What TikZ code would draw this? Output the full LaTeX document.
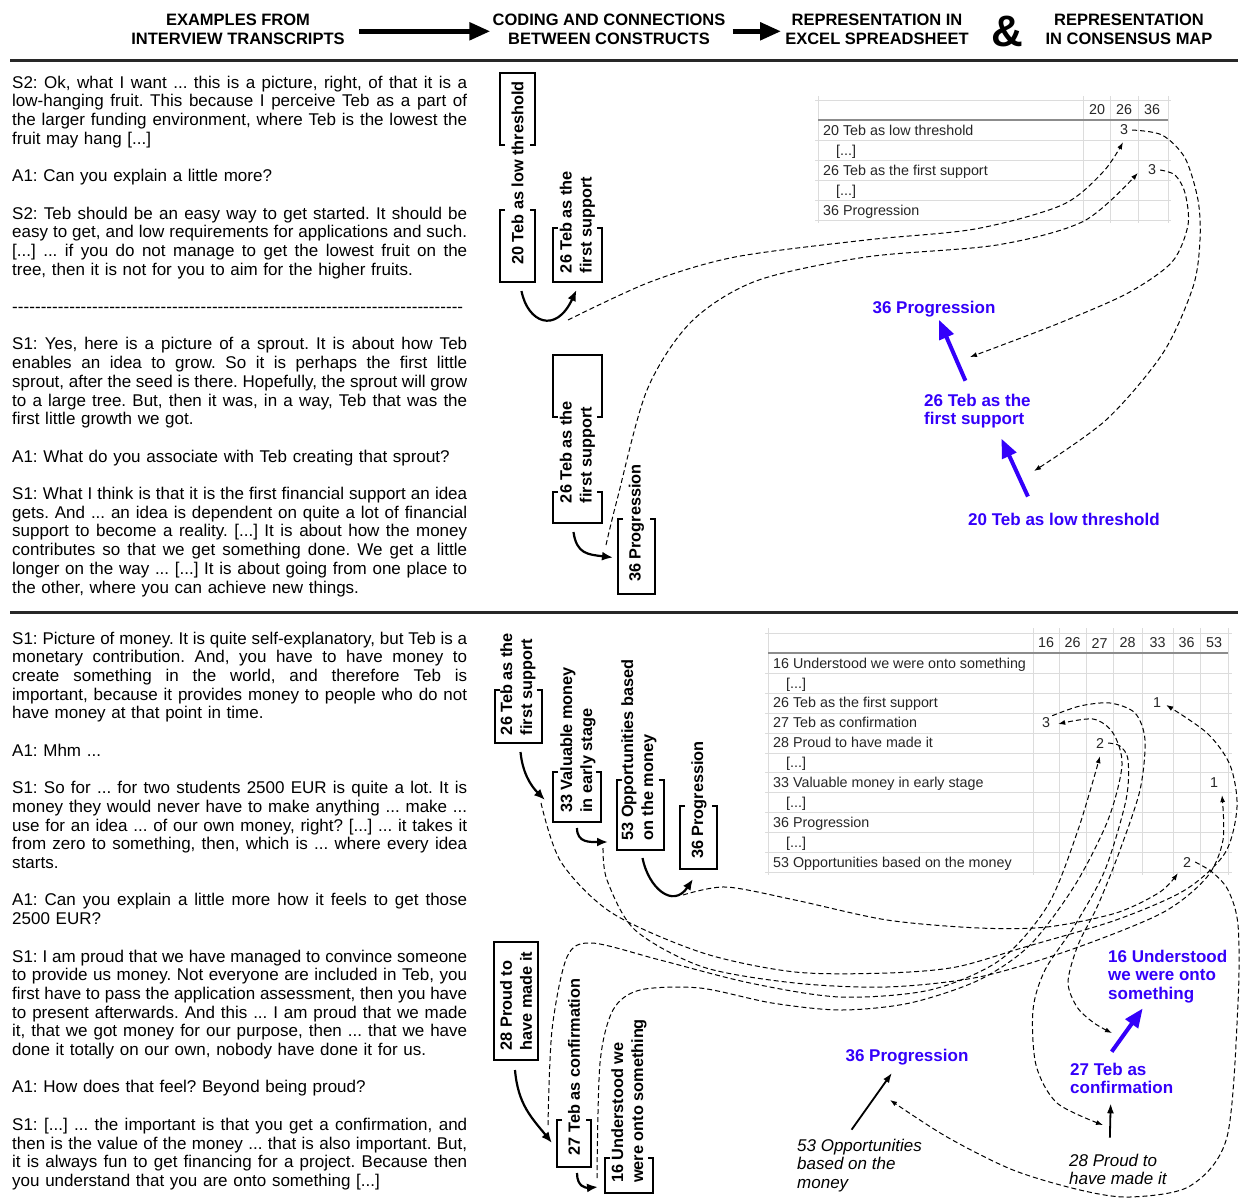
\documentclass[tikz,border=0pt]{standalone}
\usepackage{fontspec}
\setmainfont{Liberation Sans}
\usetikzlibrary{arrows.meta, calc}

\definecolor{mapblue}{RGB}{52,0,250}
\definecolor{gridline}{RGB}{220,220,220}
\definecolor{headline}{RGB}{140,140,140}
\definecolor{ruleline}{RGB}{40,40,40}

% justified line, last line, empty line of a transcript
\newcommand\jl[1]{\hbox to 455pt{\frenchspacing\spaceskip=0.278em plus 1fil minus 0.12em\relax #1}}
\newcommand\el[1]{\hbox{\frenchspacing #1}}
\newcommand\gap{\vskip 18.7pt}
\newcommand\omitrow{\kern13pt[...]}

% bracket pieces round a code
\newcommand\lowbrk[2]{\draw[brkline] ($(#1.south west)+(5,-#2)$) -- ++(-5,0) -- (#1.south west) -- (#1.south east) -- ++(0,-#2) -- ++(-5,0);}
\newcommand\highbrk[2]{\draw[brkline] ($(#1.north west)+(5,#2)$) -- ++(-5,0) -- (#1.north west) -- (#1.north east) -- ++(0,#2) -- ++(-5,0);}

\begin{document}
\begin{tikzpicture}[x=1pt, y=-1pt,
headtext/.style={font=\fontsize{16.5}{18.5}\selectfont\bfseries, align=center, inner sep=0pt, anchor=north},
talk/.style={font=\fontsize{17}{18.7}\selectfont, text width=455pt, inner sep=0pt, anchor=north west},
codeframe/.style={rectangle, inner sep=0pt, outer sep=0pt},
codetext/.style={font=\fontsize{16.3}{20}\selectfont\bfseries, rotate=90, align=left, inner sep=0pt},
brkline/.style={line width=1.8pt},
cell/.style={font=\fontsize{14.3}{16}\selectfont, anchor=base west, inner sep=0pt, text=black!85},
val/.style={font=\fontsize{14.3}{16}\selectfont, inner sep=1pt, text=black!85},
maptext/.style={font=\fontsize{17}{18.7}\selectfont\bfseries, text=mapblue, align=left, inner sep=0pt},
mapnote/.style={font=\fontsize{17}{18.5}\selectfont\itshape, align=left, inner sep=0pt},
bigarrow/.style={-{Triangle[length=21pt,width=17pt]}, line width=5pt},
codearrow/.style={-{Latex[length=11pt,width=9pt]}, line width=2.2pt},
bluearrow/.style={-{Triangle[length=19pt,width=15pt]}, line width=4pt, mapblue},
maparrow/.style={-{Latex[length=10pt,width=7pt]}, line width=1.8pt},
link/.style={-{Latex[length=7pt,width=5pt]}, line width=1pt, dash pattern=on 5pt off 3pt},
pagerule/.style={line width=3pt, draw=ruleline},
sheetline/.style={draw=gridline, line width=1pt}
]
\fill[white] (0,0) rectangle (1240,1200);
\useasboundingbox (0,0) rectangle (1240,1200);

% header
\node[headtext] (h1) at (238,14) {EXAMPLES FROM\\INTERVIEW TRANSCRIPTS};
\node[headtext] (h2) at (609,14) {CODING AND CONNECTIONS\\BETWEEN CONSTRUCTS};
\node[headtext] (h3) at (877,14) {REPRESENTATION IN\\EXCEL SPREADSHEET};
\node[font=\fontsize{44}{44}\selectfont\bfseries, inner sep=0pt] (amp) at (1007,31) {\&};
\node[headtext] (h4) at (1129,14) {REPRESENTATION\\IN CONSENSUS MAP};
\draw[bigarrow] ($(h1.east)+(14,2)$) -- ($(h2.west)+(-2,2)$);
\draw[bigarrow] ($(h2.east)+(7,2)$) -- ($(h3.west)+(-4,2)$);

\draw[pagerule] (10,60) -- (1238,60);
\draw[pagerule] (10,612) -- (1238,612);

% transcripts
\node[talk] (tr1) at (12,75.6) {%
\jl{S2: Ok, what I want ... this is a picture, right, of that it is a}
\jl{low-hanging fruit. This because I perceive Teb as a part of}
\jl{the larger funding environment, where Teb is the lowest the}
\el{fruit may hang [...]}
\gap
\el{A1: Can you explain a little more?}
\gap
\jl{S2: Teb should be an easy way to get started. It should be}
\jl{easy to get, and low requirements for applications and such.}
\jl{[...] ... if you do not manage to get the lowest fruit on the}
\el{tree, then it is not for you to aim for the higher fruits.}
\gap
\el{\xleaders\hbox{-}\hskip451pt}
\gap
\jl{S1: Yes, here is a picture of a sprout. It is about how Teb}
\jl{enables an idea to grow. So it is perhaps the first little}
\jl{sprout, after the seed is there. Hopefully, the sprout will grow}
\jl{to a large tree. But, then it was, in a way, Teb that was the}
\el{first little growth we got.}
\gap
\el{A1: What do you associate with Teb creating that sprout?}
\gap
\jl{S1: What I think is that it is the first financial support an idea}
\jl{gets. And ... an idea is dependent on quite a lot of financial}
\jl{support to become a reality. [...] It is about how the money}
\jl{contributes so that we get something done. We get a little}
\jl{longer on the way ... [...] It is about going from one place to}
\el{the other, where you can achieve new things.}};

\node[talk] (tr2) at (12,631.6) {%
\jl{S1: Picture of money. It is quite self-explanatory, but Teb is a}
\jl{monetary contribution. And, you have to have money to}
\jl{create something in the world, and therefore Teb is}
\jl{important, because it provides money to people who do not}
\el{have money at that point in time.}
\gap
\el{A1: Mhm ...}
\gap
\jl{S1: So for ... for two students 2500 EUR is quite a lot. It is}
\jl{money they would never have to make anything ... make ...}
\jl{use for an idea ... of our own money, right? [...] ... it takes it}
\jl{from zero to something, then, which is ... where every idea}
\el{starts.}
\gap
\jl{A1: Can you explain a little more how it feels to get those}
\el{2500 EUR?}
\gap
\jl{S1: I am proud that we have managed to convince someone}
\jl{to provide us money. Not everyone are included in Teb, you}
\jl{first have to pass the application assessment, then you have}
\jl{to present afterwards. And this ... I am proud that we made}
\jl{it, that we got money for our purpose, then ... that we have}
\el{done it totally on our own, nobody have done it for us.}
\gap
\el{A1: How does that feel? Beyond being proud?}
\gap
\jl{S1: [...] ... the important is that you get a confirmation, and}
\jl{then is the value of the money ... that is also important. But,}
\jl{it is always fun to get financing for a project. Because then}
\el{you understand that you are onto something [...]}};

% codes, upper example
\node[codeframe, minimum width=35pt, minimum height=209pt] (c20) at (517.5,177.5) {};
\node[codetext] (t20) at (517.5,173) {20 Teb as low threshold};
\highbrk{c20}{72} \lowbrk{c20}{72}
\node[codeframe, minimum width=49pt, minimum height=117pt] (c26a) at (577.5,223.5) {};
\node[codetext] (t26a) at (577.5,222) {26 Teb as the\\first support};
\lowbrk{c26a}{54}
\node[codeframe, minimum width=49pt, minimum height=168pt] (c26b) at (577.5,439) {};
\node[codetext] (t26b) at (577.5,452) {26 Teb as the\\first support};
\highbrk{c26b}{62} \lowbrk{c26b}{31}
\node[codeframe, minimum width=37pt, minimum height=75pt] (c36a) at (636.5,556.5) {};
\node[codetext] (t36a) at (636.5,523) {36 Progression};
\lowbrk{c36a}{75}

\draw[codearrow] ($(c20.south)+(4,9)$) .. controls +(6,31) and +(-21,45) .. ($(c26a.south)+(-1,8)$);
\draw[codearrow] ($(c26b.south)+(-4,9)$) .. controls +(3,22) and +(-25,-3) .. ($(c36a.west)+(-5,1)$);

% codes, lower example
\node[codeframe, minimum width=47pt, minimum height=114pt] (c26c) at (518.5,686) {};
\node[codetext] (t26c) at (518,684) {26 Teb as the\\first support};
\lowbrk{c26c}{53}
\node[codeframe, minimum width=48pt, minimum height=162pt] (c33) at (577,741) {};
\node[codetext] (t33) at (578,740) {33 Valuable money\\in early stage};
\lowbrk{c33}{50}
\node[codeframe, minimum width=47pt, minimum height=200pt] (c53) at (640.5,750) {};
\node[codetext] (t53) at (639,750) {53 Opportunities based\\on the money};
\lowbrk{c53}{70}
\node[codeframe, minimum width=37pt, minimum height=135pt] (c36b) at (698.5,801.5) {};
\node[codetext] (t36b) at (699,800) {36 Progression};
\lowbrk{c36b}{63}
\node[codeframe, draw, brkline, minimum width=44pt, minimum height=118pt] (c28) at (516,1001) {};
\node[codetext] (t28) at (516,1001) {28 Proud to\\have made it};
\node[codeframe, minimum width=34pt, minimum height=197pt] (c27) at (574,1068.5) {};
\node[codetext] (t27) at (574,1067) {27 Teb as confirmation};
\lowbrk{c27}{47}
\node[codeframe, minimum width=48pt, minimum height=183pt] (c16) at (629,1101.5) {};
\node[codetext] (t16) at (629,1101) {16 Understood we\\were onto something};
\lowbrk{c16}{35}

\draw[codearrow] ($(c26c.south)+(2,9)$) .. controls +(2,20) and +(-15,-15) .. ($(c33.south west)+(-8,-22)$);
\draw[codearrow] ($(c33.south)+(0,6)$) .. controls +(0,15) and +(-18,0) .. ($(c53.south west)+(-9,-8)$);
\draw[codearrow] ($(c53.south)+(2,8)$) .. controls +(6,30) and +(-20,30) .. ($(c36b.south west)+(13,10)$);
\draw[codearrow] ($(c28.south)+(-1,10)$) .. controls +(3,35) and +(-20,-25) .. ($(c27.south west)+(-5,-24)$);
\draw[codearrow] ($(c27.south)+(3,6)$) .. controls +(0,14) and +(-12,1) .. ($(c16.south west)+(-7,-6)$);

% spreadsheet, upper example
\foreach \y in {100,140,160,180,200,220} \draw[sheetline] (815,\y) -- (1171,\y);
\foreach \x in {818,1083,1110,1138,1168} \draw[sheetline] (\x,96) -- (\x,223);
\draw[line width=1.2pt, headline] (818,120) -- (1168,120);
\foreach \n/\x in {20/1097,26/1124,36/1152} \node[val] (ht\n) at (\x,110) {\n};
\foreach \lbl [count=\row] in {20 Teb as low threshold, \omitrow, 26 Teb as the first support, \omitrow, 36 Progression}
  \node[cell] (rt\row) at (823,115.1+20*\row) {\lbl};
\node[val] (v2026) at (1124,130) {3};
\node[val] (v2636) at (1152,170) {3};

% spreadsheet, lower example
\foreach \y in {633,673,693,713,733,753,772,792,812,832,852,872} \draw[sheetline] (765,\y) -- (1232,\y);
\foreach \x in {768,1033,1059,1086,1113,1142,1173,1200,1228} \draw[sheetline] (\x,628) -- (\x,875);
\draw[line width=1.2pt, headline] (768,653) -- (1228,653);
\foreach \n/\x in {16/1046,26/1072.5,27/1099.5,28/1127.5,33/1157.5,36/1186.5,53/1214} \node[val] (hb\n) at (\x,643) {\n};
\foreach \lbl [count=\row] in {16 Understood we were onto something, \omitrow, 26 Teb as the first support, 27 Teb as confirmation, 28 Proud to have made it, \omitrow, 33 Valuable money in early stage, \omitrow, 36 Progression, \omitrow, 53 Opportunities based on the money}
  \node[cell] (rb\row) at (773,648.2+19.9*\row) {\lbl};
\node[val] (v2633) at (1157,703) {1};
\node[val] (v2716) at (1046,723) {3};
\node[val] (v2827) at (1100,743) {2};
\node[val] (v3353) at (1214,783) {1};
\node[val] (v5336) at (1187,862) {2};

% consensus map, upper example
\node[maptext, anchor=base] (m36a) at (934,313) {36 Progression};
\node[maptext, anchor=north west] (m26) at (924,393.7) {26 Teb as the\\first support};
\node[maptext, anchor=base west] (m20) at (968,525) {20 Teb as low threshold};
\draw[bluearrow] ($(m26.north)+(-12,-13)$) -- ($(m36a.south)+(5,3)$);
\draw[bluearrow] ($(m20.north)+(-36,-16)$) -- ($(m26.south)+(24,10)$);

% consensus map, lower example
\node[maptext, anchor=base] (m36b) at (907,1061) {36 Progression};
\node[maptext, anchor=north west] (m27) at (1070,1062.7) {27 Teb as\\confirmation};
\node[maptext, anchor=north west] (m16) at (1108,949.7) {16 Understood\\we were onto\\something};
\node[mapnote, anchor=north west] (m53) at (797,1138.7) {53 Opportunities\\based on the\\money};
\node[mapnote, anchor=north west] (m28) at (1069,1153.7) {28 Proud to\\have made it};
\draw[bluearrow] ($(m27.north)+(-10,-11)$) -- ($(m16.south)+(-25,5)$);
\draw[maparrow] ($(m28.north)+(-8,-16)$) -- ($(m27.south)+(-11,9)$);
\draw[maparrow] ($(m53.north)+(-8,-9)$) -- ($(m36b.south)+(-15,8)$);

% dashed links: code pair -> cell -> map
\coordinate (l2026) at (568,320);
\coordinate (l2636) at (606,545);
\coordinate (e2026) at ($(v2026.south)+(-1,6)$);
\coordinate (e2636) at ($(v2636.west)+(-9,3)$);
\coordinate (b2636) at (970,357);
\coordinate (b2026) at (1034,471);
\draw[link] plot[smooth] coordinates {(l2026) (650,282) (735,257) (866,240) (975,229) (1062,205) (1103,172) (e2026)};
\draw[link] plot[smooth] coordinates {(l2636) (617,500) (647,390) (691,322) (756,281) (866,257) (997,245) (1084,221) (e2636)};
\draw[link] plot[smooth] coordinates {($(v2636.east)+(3,0)$) (1175,175) (1185,193) (1188,225) (1172,262) (1128,293) (1062,322) (997,347) (b2636)};
\draw[link] plot[smooth] coordinates {($(v2026.east)+(3,0)$) (1162,135) (1185,158) (1198,200) (1200,240) (1193,287) (1163,353) (1106,420) (b2026)};

\coordinate (l2633) at (541,803);
\coordinate (l3353) at (603,848);
\coordinate (l5336) at (683,895);
\coordinate (l2827) at (548,1125);
\coordinate (l2716) at (597,1178);
\coordinate (e2633) at ($(v2633.east)+(4,2)$);
\coordinate (e3353) at ($(v3353.south)+(8,6)$);
\coordinate (e5336) at ($(v5336.south west)+(-4,5)$);
\coordinate (e2827) at ($(v2827.south)+(0,7)$);
\coordinate (e2716) at ($(v2716.east)+(7,1)$);
\coordinate (b2716) at (1112,1033);
\coordinate (b2827) at (1103,1125);
\coordinate (b5336) at (890,1100);
\draw[link] plot[smooth] coordinates {(l2633) (561,862) (612,913) (703,953) (795,972) (887,973) (956,967) (1025,947) (1116,920) (1185,890) (1225,853) (1237,807) (1230,765) (1207,733) (e2633)};
\draw[link] plot[smooth] coordinates {(l3353) (607,880) (635,930) (703,967) (795,983) (887,987) (979,977) (1070,950) (1162,913) (1207,877) (1223,840) (e3353)};
\draw[link] plot[smooth] coordinates {(l5336) (726,887) (795,900) (887,920) (979,928) (1047,927) (1116,913) (1160,892) (e5336)};
\draw[link] plot[smooth] coordinates {(l2827) (552,1030) (567,957) (592,943) (660,960) (750,983) (840,997) (930,990) (1000,960) (1048,905) (1078,830) (e2827)};
\draw[link] plot[smooth] coordinates {(l2716) (600,1063) (613,1010) (640,990) (700,988) (772,1003) (841,1010) (910,1003) (979,980) (1030,945) (1075,885) (1108,820) (1122,765) (1113,733) (1093,719) (e2716)};
\draw[link] plot[smooth] coordinates {($(v2716.north east)+(1,-1)$) (1080,706) (1110,703) (1135,713) (1145,740) (1140,790) (1120,850) (1098,905) (1078,945) (1068,982) (1077,1007) (1094,1023) (b2716)};
\draw[link] plot[smooth] coordinates {($(v2827.east)+(3,0)$) (1120,746) (1128,760) (1126,800) (1105,870) (1075,925) (1045,970) (1033,1010) (1036,1065) (1057,1103) (b2827)};
\draw[link] plot[smooth] coordinates {($(v5336.east)+(3,0)$) (1212,872) (1228,890) (1238,925) (1238,1003) (1227,1137) (1190,1186) (1130,1197) (1080,1190) (1013,1170) (947,1137) (b5336)};
\end{tikzpicture}
\end{document}
